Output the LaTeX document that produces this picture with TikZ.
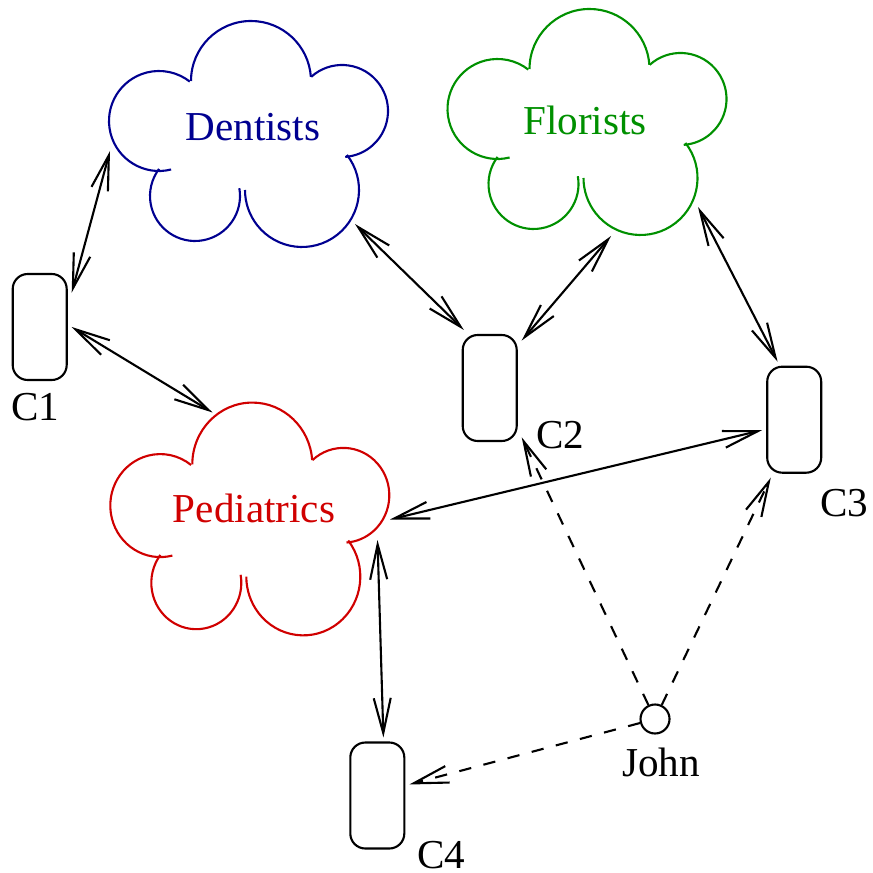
\documentclass[tikz,border=0pt]{standalone}
\usepackage{fontspec}
\setmainfont{Liberation Serif}
\usepackage{tikz}
\usetikzlibrary{arrows.meta}

\definecolor{dentblue}{HTML}{000090}
\definecolor{florgreen}{HTML}{009000}
\definecolor{pedred}{HTML}{D00000}

\tikzset{
  fluffy/.pic={
    \draw (0.01,0.54) ++(180:0.60) arc[start angle=180,end angle=4,radius=0.60];
    \draw (0.92,0.24) ++(132:0.46) arc[start angle=132,end angle=-86,radius=0.46];
    \draw (0.52,-0.55) ++(38:0.57) arc[start angle=38,end angle=-180,radius=0.57];
    \draw (-0.55,-0.61) ++(10:0.45) arc[start angle=10,end angle=-217,radius=0.45];
    \draw (-0.91,0.14) ++(284:0.50) arc[start angle=284,end angle=52,radius=0.50];
  },
  db/.style={draw, rounded corners=0.15cm, minimum width=0.54cm, minimum height=1.06cm, inner sep=0pt, outer sep=0.05cm},
  link/.style={<->},
  probe/.style={->, dash pattern=on 3.5pt off 3.6pt}
}

\begin{document}
\begin{tikzpicture}[line width=0.6pt, >={Straight Barb[length=3.5mm,width=1.7mm]}, font=\fontsize{11.7}{14}\selectfont]
    \useasboundingbox (0,0) rectangle (8.73,-8.73);
    \pic[dentblue] at (2.50,-1.35) {fluffy};
    \pic[florgreen] at (5.885,-1.23) {fluffy};
    \pic[pedred, yscale=1.03] at (2.513,-5.20) {fluffy};
    \node[dentblue] (dent) at (2.53,-1.27) {Dentists};
    \node[florgreen] (flor) at (5.85,-1.20) {Florists};
    \node[pedred] (ped) at (2.54,-5.08) {Pediatrics};
    \coordinate (dent-w) at (1.10,-1.51);
    \coordinate (dent-se) at (3.55,-2.24);
    \coordinate (flor-s) at (6.11,-2.36);
    \coordinate (flor-se) at (6.98,-2.07);
    \coordinate (ped-n) at (2.125,-4.125);
    \coordinate (ped-e) at (3.90,-5.195);
    \coordinate (ped-se) at (3.775,-5.40);
    \node[db] (c1) at (0.397,-3.27) {};
    \node[db] (c2) at (4.897,-3.88) {};
    \node[db] (c3) at (7.942,-4.197) {};
    \node[db] (c4) at (3.773,-7.955) {};
    \node (c1-tag) at (0.35,-4.07) {C1};
    \node (c2-tag) at (5.60,-4.35) {C2};
    \node (c3-tag) at (8.44,-5.03) {C3};
    \node (c4-tag) at (4.41,-8.55) {C4};
    \node[draw, circle, minimum size=0.29cm, inner sep=0pt] (john) at (6.55,-7.19) {};
    \node (john-tag) at (6.61,-7.62) {John};
    \draw[link] (c1.47) -- (dent-w);
    \draw[link] (c1.east) -- (ped-n);
    \draw[link] (c2.114) -- (dent-se);
    \draw[link] (c2.56) -- (flor-s);
    \draw[link] (c3.106) -- (flor-se);
    \draw[link] (c3.198) -- (ped-e);
    \draw[link] (c4.84) -- (ped-se);
    \draw[probe] (john) -- (c2.-57);
    \draw[probe] (john) -- (c3.-112);
    \draw[probe] (john) -- (c4.19);
\end{tikzpicture}
\end{document}
